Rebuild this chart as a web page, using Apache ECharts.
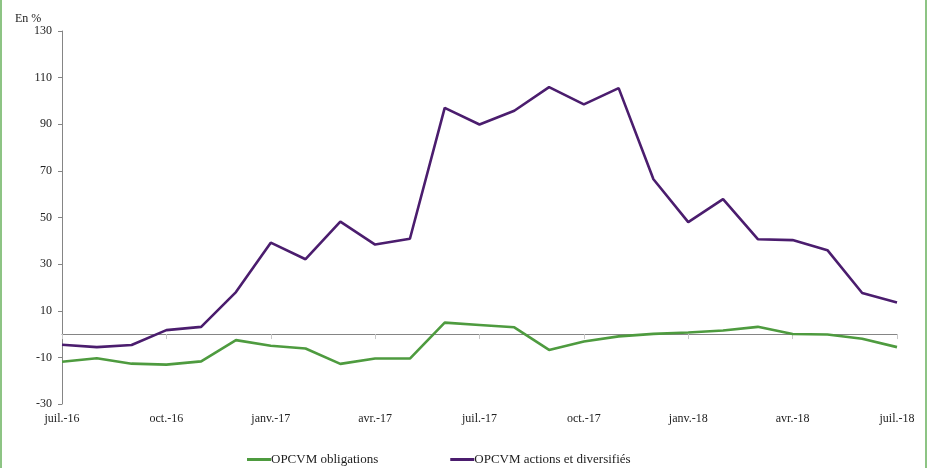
<!DOCTYPE html>
<html>
<head>
<meta charset="utf-8">
<script src="https://cdn.jsdelivr.net/npm/echarts@6/dist/echarts.min.js"></script>
<style>
html,body{margin:0;padding:0;background:#fff;}
#wrap{position:absolute;left:0;top:0;width:927px;height:468px;box-sizing:border-box;border-left:2px solid #8dc484;border-right:2px solid #8dc484;}
#chart{position:absolute;left:0;top:0;width:927px;height:468px;}
</style>
</head>
<body>
<div id="chart"></div>
<div id="wrap"></div>
<script>
const months = ['juil.-16','août-16','sept.-16','oct.-16','nov.-16','déc.-16','janv.-17','févr.-17','mars-17','avr.-17','mai-17','juin-17','juil.-17','août-17','sept.-17','oct.-17','nov.-17','déc.-17','janv.-18','févr.-18','mars-18','avr.-18','mai-18','juin-18','juil.-18'];
const obligations = [-11.9,-10.4,-12.7,-13.1,-11.7,-2.6,-5.0,-6.2,-12.8,-10.5,-10.5,4.9,3.9,2.9,-6.8,-3.2,-1.0,0.1,0.7,1.5,3.1,0.0,-0.2,-2.0,-5.6];
const actions = [-4.6,-5.6,-4.7,1.7,3.1,18.0,39.2,32.1,48.2,38.4,40.9,97.0,89.9,95.8,105.9,98.5,105.5,66.4,48.0,57.9,40.7,40.3,36.0,17.6,13.5];
const yTicks = [-30,-10,10,30,50,70,90,110,130];
const seriesNames = ['OPCVM obligations','OPCVM actions et diversifiés'];
const unitLabel = 'En %';

const font = '"Liberation Serif", "DejaVu Serif", serif';
const chart = echarts.init(document.getElementById('chart'));
chart.setOption({
  animation: false,
  backgroundColor: '#fff',
  title: {text: unitLabel, left: 10, top: 8, textStyle: {fontFamily: font, fontSize: 12, fontWeight: 'normal', color: '#222'}},
  grid: {left: 62, right: 30, top: 31, bottom: 64, containLabel: false},
  legend: {
    top: 448, left: 242, itemGap: 72,
    itemWidth: 24, itemHeight: 3, icon: 'rect',
    textStyle: {fontFamily: font, fontSize: 13, color: '#222', padding: [0,0,0,-5]},
    data: seriesNames
  },
  xAxis: [
    {type: 'category', data: months, boundaryGap: false, position: 'bottom',
     axisLine: {show: false, onZero: false}, axisTick: {show: false},
     axisLabel: {interval: 2, fontFamily: font, fontSize: 12, color: '#222', margin: 9}},
    {type: 'category', data: months, boundaryGap: false, position: 'top',
     axisLine: {show: true, onZero: true, lineStyle: {color: '#858585', width: 1}},
     axisTick: {show: true, interval: 2, inside: true, length: 5, lineStyle: {color: '#c8c8c8'}},
     axisLabel: {show: false}}
  ],
  yAxis: {
    type: 'value', min: -30, max: 130, interval: 10,
    splitLine: {show: false},
    axisLine: {show: true, lineStyle: {color: '#858585', width: 1}},
    axisTick: {show: true, length: 4, customValues: yTicks, lineStyle: {color: '#858585'}},
    axisLabel: {customValues: yTicks, fontFamily: font, fontSize: 12, color: '#222', margin: 10}
  },
  series: [
    {name: seriesNames[0], type: 'line', xAxisIndex: 0, data: obligations, symbol: 'none',
     lineStyle: {color: '#4e9b3f', width: 2.6}, itemStyle: {color: '#4e9b3f'}, z: 3},
    {name: seriesNames[1], type: 'line', xAxisIndex: 0, data: actions, symbol: 'none',
     lineStyle: {color: '#4b1d6e', width: 2.6}, itemStyle: {color: '#4b1d6e'}, z: 3}
  ]
});
</script>
</body>
</html>
